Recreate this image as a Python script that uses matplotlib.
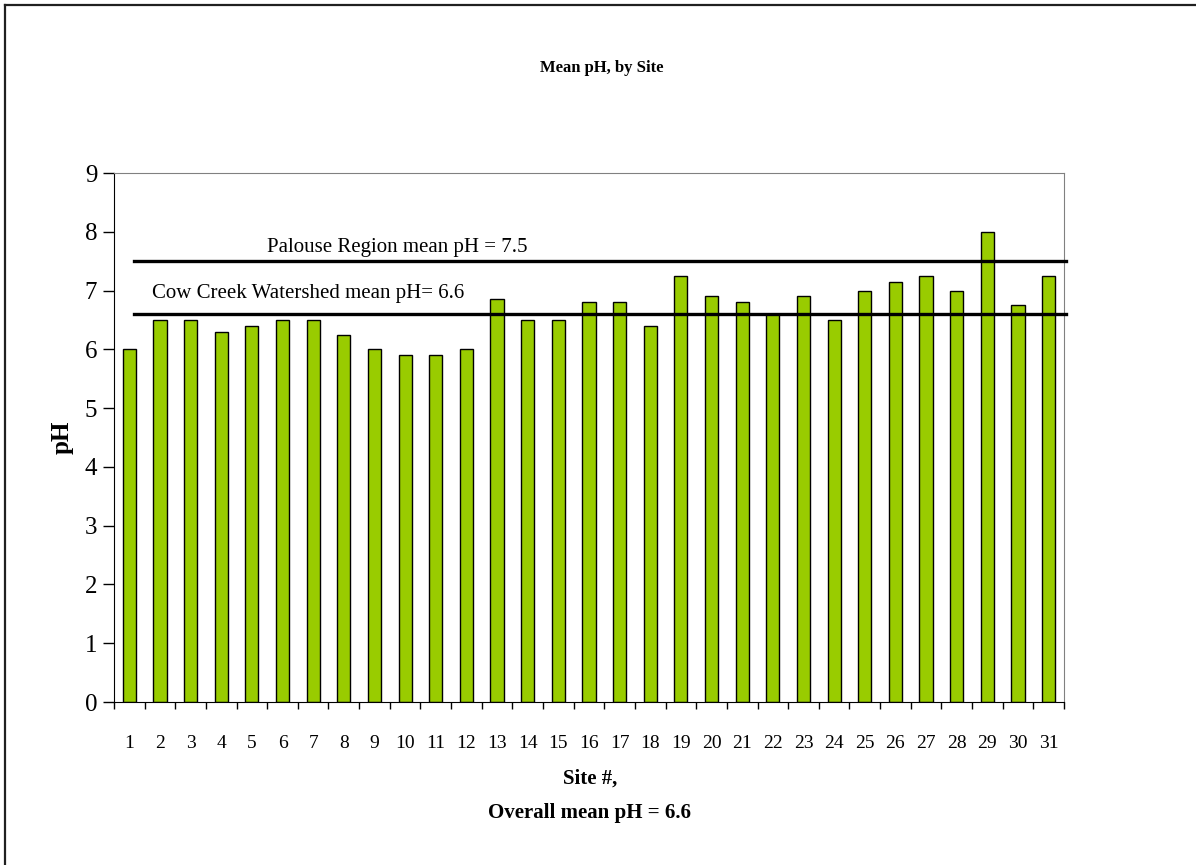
import numpy as np
import matplotlib
matplotlib.use("Agg")
import matplotlib.pyplot as plt
from matplotlib.lines import Line2D
from matplotlib.ticker import FixedLocator, NullFormatter

# Mean pH per sampling site
sites = list(range(1, 32))
ph_values = [6.0, 6.5, 6.5, 6.3, 6.4, 6.5, 6.5, 6.25, 6.0, 5.9,
             5.9, 6.0, 6.85, 6.5, 6.5, 6.8, 6.8, 6.4, 7.25, 6.9,
             6.8, 6.6, 6.9, 6.5, 7.0, 7.15, 7.25, 7.0, 8.0, 6.75,
             7.25]

# Reference means
palouse_mean = 7.5
cow_creek_mean = 6.6
overall_mean = 6.6

plt.rcParams['font.family'] = ['Liberation Serif', 'DejaVu Serif']

fig = plt.figure(figsize=(11.96, 8.65), dpi=100)
ax = fig.add_axes([0.0953, 0.1884, 0.7943, 0.6116])

ax.bar(sites, ph_values, width=0.43, color='#99CC00',
       edgecolor='black', linewidth=1.0, zorder=2)

# mean lines
for val in (palouse_mean, cow_creek_mean):
    ax.axhline(val, xmin=0.021, xmax=1.002, color='black', lw=2.4,
               zorder=3, clip_on=False)

ax.annotate(f"Palouse Region mean pH = {palouse_mean}",
            xy=(5.49, palouse_mean), xytext=(0, 3), textcoords='offset points',
            ha='left', va='bottom', fontsize=15)
ax.annotate(f"Cow Creek Watershed mean pH= {cow_creek_mean}",
            xy=(1.74, cow_creek_mean), xytext=(0, 8), textcoords='offset points',
            ha='left', va='bottom', fontsize=15)

ax.set_xlim(0.5, 31.5)
ax.set_ylim(0, 9)
ax.set_yticks(range(0, 10))
ax.tick_params(axis='y', direction='out', length=8, width=1, labelsize=18, pad=4)

# category labels centred, tick marks between categories
ax.set_xticks(sites)
ax.set_xticklabels([str(s) for s in sites])
ax.xaxis.set_minor_locator(FixedLocator(np.arange(0.5, 32.0, 1.0)))
ax.xaxis.set_minor_formatter(NullFormatter())
ax.tick_params(axis='x', which='major', length=0, labelsize=14, pad=24)
ax.tick_params(axis='x', which='minor', direction='out', length=5, width=1)

for side in ('top', 'right'):
    ax.spines[side].set_color('#808080')
for side in ('left', 'bottom'):
    ax.spines[side].set_color('black')

ax.set_ylabel("pH", fontsize=18, fontweight='bold', labelpad=8)

fig.text(0.503, 0.921, "Mean pH, by Site", ha='center', va='center',
         fontsize=12, fontweight='bold')
fig.text(0.493, 0.100, "Site #,", ha='center', va='center',
         fontsize=15, fontweight='bold')
fig.text(0.493, 0.060, f"Overall mean pH = {overall_mean}", ha='center',
         va='center', fontsize=15, fontweight='bold')

# outer chart border
fig.add_artist(Line2D([5 / 1196, 1.0], [1 - 5 / 865, 1 - 5 / 865],
                      transform=fig.transFigure, color='#202020', lw=1.6))
fig.add_artist(Line2D([5 / 1196, 5 / 1196], [0.0, 1 - 5 / 865],
                      transform=fig.transFigure, color='#202020', lw=1.6))

fig.savefig("out.png", dpi=100, facecolor='white')
